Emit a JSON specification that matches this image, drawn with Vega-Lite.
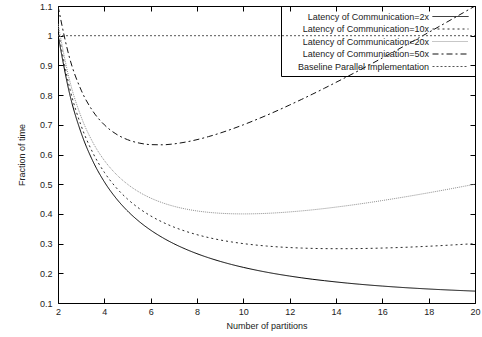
{
  "$schema": "https://vega.github.io/schema/vega-lite/v6.json",
  "width": 417,
  "height": 297,
  "autosize": {"type": "none"},
  "padding": {"left": 58, "top": 6, "right": 7, "bottom": 34},
  "background": "white",
  "config": {
    "view": {"stroke": "black", "strokeWidth": 1},
    "font": "Liberation Sans",
    "axis": {
      "grid": false,
      "domain": false,
      "ticks": true,
      "tickSize": -5,
      "tickColor": "black",
      "labelFont": "Liberation Sans",
      "labelFontSize": 9,
      "labelColor": "#222",
      "titleFont": "Liberation Sans",
      "titleFontSize": 9,
      "titleFontWeight": "normal",
      "titleColor": "#222"
    },
    "legend": {
      "orient": "top-right",
      "offset": 0,
      "fillColor": "transparent",
      "strokeColor": "black",
      "padding": 4,
      "rowPadding": 0.5,
      "labelFont": "Liberation Sans",
      "labelFontSize": 9,
      "labelColor": "#222",
      "labelAlign": "right",
      "symbolType": "M-3,0H3",
      "symbolSize": 144,
      "symbolStrokeWidth": 1,
      "symbolFillColor": "transparent",
      "symbolOffset": 159,
      "labelOffset": -28
    }
  },
  "data": {
    "values": [
      {"n":2,"s":"Latency of Communication=2x","f":1.004},
      {"n":2.5,"s":"Latency of Communication=2x","f":0.805},
      {"n":3,"s":"Latency of Communication=2x","f":0.6727},
      {"n":3.5,"s":"Latency of Communication=2x","f":0.5784},
      {"n":4,"s":"Latency of Communication=2x","f":0.508},
      {"n":4.5,"s":"Latency of Communication=2x","f":0.4534},
      {"n":5,"s":"Latency of Communication=2x","f":0.41},
      {"n":5.5,"s":"Latency of Communication=2x","f":0.3746},
      {"n":6,"s":"Latency of Communication=2x","f":0.3453},
      {"n":6.5,"s":"Latency of Communication=2x","f":0.3207},
      {"n":7,"s":"Latency of Communication=2x","f":0.2997},
      {"n":7.5,"s":"Latency of Communication=2x","f":0.2817},
      {"n":8,"s":"Latency of Communication=2x","f":0.266},
      {"n":8.5,"s":"Latency of Communication=2x","f":0.2523},
      {"n":9,"s":"Latency of Communication=2x","f":0.2402},
      {"n":9.5,"s":"Latency of Communication=2x","f":0.2295},
      {"n":10,"s":"Latency of Communication=2x","f":0.22},
      {"n":10.5,"s":"Latency of Communication=2x","f":0.2115},
      {"n":11,"s":"Latency of Communication=2x","f":0.2038},
      {"n":11.5,"s":"Latency of Communication=2x","f":0.1969},
      {"n":12,"s":"Latency of Communication=2x","f":0.1907},
      {"n":12.5,"s":"Latency of Communication=2x","f":0.185},
      {"n":13,"s":"Latency of Communication=2x","f":0.1798},
      {"n":13.5,"s":"Latency of Communication=2x","f":0.1752},
      {"n":14,"s":"Latency of Communication=2x","f":0.1709},
      {"n":14.5,"s":"Latency of Communication=2x","f":0.1669},
      {"n":15,"s":"Latency of Communication=2x","f":0.1633},
      {"n":15.5,"s":"Latency of Communication=2x","f":0.16},
      {"n":16,"s":"Latency of Communication=2x","f":0.157},
      {"n":16.5,"s":"Latency of Communication=2x","f":0.1542},
      {"n":17,"s":"Latency of Communication=2x","f":0.1516},
      {"n":17.5,"s":"Latency of Communication=2x","f":0.1493},
      {"n":18,"s":"Latency of Communication=2x","f":0.1471},
      {"n":18.5,"s":"Latency of Communication=2x","f":0.1451},
      {"n":19,"s":"Latency of Communication=2x","f":0.1433},
      {"n":19.5,"s":"Latency of Communication=2x","f":0.1416},
      {"n":20,"s":"Latency of Communication=2x","f":0.14},
      {"n":2,"s":"Latency of Communication=10x","f":1.02},
      {"n":2.5,"s":"Latency of Communication=10x","f":0.825},
      {"n":3,"s":"Latency of Communication=10x","f":0.6967},
      {"n":3.5,"s":"Latency of Communication=10x","f":0.6064},
      {"n":4,"s":"Latency of Communication=10x","f":0.54},
      {"n":4.5,"s":"Latency of Communication=10x","f":0.4894},
      {"n":5,"s":"Latency of Communication=10x","f":0.45},
      {"n":5.5,"s":"Latency of Communication=10x","f":0.4186},
      {"n":6,"s":"Latency of Communication=10x","f":0.3933},
      {"n":6.5,"s":"Latency of Communication=10x","f":0.3727},
      {"n":7,"s":"Latency of Communication=10x","f":0.3557},
      {"n":7.5,"s":"Latency of Communication=10x","f":0.3417},
      {"n":8,"s":"Latency of Communication=10x","f":0.33},
      {"n":8.5,"s":"Latency of Communication=10x","f":0.3203},
      {"n":9,"s":"Latency of Communication=10x","f":0.3122},
      {"n":9.5,"s":"Latency of Communication=10x","f":0.3055},
      {"n":10,"s":"Latency of Communication=10x","f":0.3},
      {"n":10.5,"s":"Latency of Communication=10x","f":0.2955},
      {"n":11,"s":"Latency of Communication=10x","f":0.2918},
      {"n":11.5,"s":"Latency of Communication=10x","f":0.2889},
      {"n":12,"s":"Latency of Communication=10x","f":0.2867},
      {"n":12.5,"s":"Latency of Communication=10x","f":0.285},
      {"n":13,"s":"Latency of Communication=10x","f":0.2838},
      {"n":13.5,"s":"Latency of Communication=10x","f":0.2831},
      {"n":14,"s":"Latency of Communication=10x","f":0.2829},
      {"n":14.5,"s":"Latency of Communication=10x","f":0.2829},
      {"n":15,"s":"Latency of Communication=10x","f":0.2833},
      {"n":15.5,"s":"Latency of Communication=10x","f":0.284},
      {"n":16,"s":"Latency of Communication=10x","f":0.285},
      {"n":16.5,"s":"Latency of Communication=10x","f":0.2862},
      {"n":17,"s":"Latency of Communication=10x","f":0.2876},
      {"n":17.5,"s":"Latency of Communication=10x","f":0.2893},
      {"n":18,"s":"Latency of Communication=10x","f":0.2911},
      {"n":18.5,"s":"Latency of Communication=10x","f":0.2931},
      {"n":19,"s":"Latency of Communication=10x","f":0.2953},
      {"n":19.5,"s":"Latency of Communication=10x","f":0.2976},
      {"n":20,"s":"Latency of Communication=10x","f":0.3},
      {"n":2,"s":"Latency of Communication=20x","f":1.04},
      {"n":2.5,"s":"Latency of Communication=20x","f":0.85},
      {"n":3,"s":"Latency of Communication=20x","f":0.7267},
      {"n":3.5,"s":"Latency of Communication=20x","f":0.6414},
      {"n":4,"s":"Latency of Communication=20x","f":0.58},
      {"n":4.5,"s":"Latency of Communication=20x","f":0.5344},
      {"n":5,"s":"Latency of Communication=20x","f":0.5},
      {"n":5.5,"s":"Latency of Communication=20x","f":0.4736},
      {"n":6,"s":"Latency of Communication=20x","f":0.4533},
      {"n":6.5,"s":"Latency of Communication=20x","f":0.4377},
      {"n":7,"s":"Latency of Communication=20x","f":0.4257},
      {"n":7.5,"s":"Latency of Communication=20x","f":0.4167},
      {"n":8,"s":"Latency of Communication=20x","f":0.41},
      {"n":8.5,"s":"Latency of Communication=20x","f":0.4053},
      {"n":9,"s":"Latency of Communication=20x","f":0.4022},
      {"n":9.5,"s":"Latency of Communication=20x","f":0.4005},
      {"n":10,"s":"Latency of Communication=20x","f":0.4},
      {"n":10.5,"s":"Latency of Communication=20x","f":0.4005},
      {"n":11,"s":"Latency of Communication=20x","f":0.4018},
      {"n":11.5,"s":"Latency of Communication=20x","f":0.4039},
      {"n":12,"s":"Latency of Communication=20x","f":0.4067},
      {"n":12.5,"s":"Latency of Communication=20x","f":0.41},
      {"n":13,"s":"Latency of Communication=20x","f":0.4138},
      {"n":13.5,"s":"Latency of Communication=20x","f":0.4181},
      {"n":14,"s":"Latency of Communication=20x","f":0.4229},
      {"n":14.5,"s":"Latency of Communication=20x","f":0.4279},
      {"n":15,"s":"Latency of Communication=20x","f":0.4333},
      {"n":15.5,"s":"Latency of Communication=20x","f":0.439},
      {"n":16,"s":"Latency of Communication=20x","f":0.445},
      {"n":16.5,"s":"Latency of Communication=20x","f":0.4512},
      {"n":17,"s":"Latency of Communication=20x","f":0.4576},
      {"n":17.5,"s":"Latency of Communication=20x","f":0.4643},
      {"n":18,"s":"Latency of Communication=20x","f":0.4711},
      {"n":18.5,"s":"Latency of Communication=20x","f":0.4781},
      {"n":19,"s":"Latency of Communication=20x","f":0.4853},
      {"n":19.5,"s":"Latency of Communication=20x","f":0.4926},
      {"n":20,"s":"Latency of Communication=20x","f":0.5},
      {"n":2,"s":"Latency of Communication=50x","f":1.1},
      {"n":2.5,"s":"Latency of Communication=50x","f":0.925},
      {"n":3,"s":"Latency of Communication=50x","f":0.8167},
      {"n":3.5,"s":"Latency of Communication=50x","f":0.7464},
      {"n":4,"s":"Latency of Communication=50x","f":0.7},
      {"n":4.5,"s":"Latency of Communication=50x","f":0.6694},
      {"n":5,"s":"Latency of Communication=50x","f":0.65},
      {"n":5.5,"s":"Latency of Communication=50x","f":0.6386},
      {"n":6,"s":"Latency of Communication=50x","f":0.6333},
      {"n":6.5,"s":"Latency of Communication=50x","f":0.6327},
      {"n":7,"s":"Latency of Communication=50x","f":0.6357},
      {"n":7.5,"s":"Latency of Communication=50x","f":0.6417},
      {"n":8,"s":"Latency of Communication=50x","f":0.65},
      {"n":8.5,"s":"Latency of Communication=50x","f":0.6603},
      {"n":9,"s":"Latency of Communication=50x","f":0.6722},
      {"n":9.5,"s":"Latency of Communication=50x","f":0.6855},
      {"n":10,"s":"Latency of Communication=50x","f":0.7},
      {"n":10.5,"s":"Latency of Communication=50x","f":0.7155},
      {"n":11,"s":"Latency of Communication=50x","f":0.7318},
      {"n":11.5,"s":"Latency of Communication=50x","f":0.7489},
      {"n":12,"s":"Latency of Communication=50x","f":0.7667},
      {"n":12.5,"s":"Latency of Communication=50x","f":0.785},
      {"n":13,"s":"Latency of Communication=50x","f":0.8038},
      {"n":13.5,"s":"Latency of Communication=50x","f":0.8231},
      {"n":14,"s":"Latency of Communication=50x","f":0.8429},
      {"n":14.5,"s":"Latency of Communication=50x","f":0.8629},
      {"n":15,"s":"Latency of Communication=50x","f":0.8833},
      {"n":15.5,"s":"Latency of Communication=50x","f":0.904},
      {"n":16,"s":"Latency of Communication=50x","f":0.925},
      {"n":16.5,"s":"Latency of Communication=50x","f":0.9462},
      {"n":17,"s":"Latency of Communication=50x","f":0.9676},
      {"n":17.5,"s":"Latency of Communication=50x","f":0.9893},
      {"n":18,"s":"Latency of Communication=50x","f":1.0111},
      {"n":18.5,"s":"Latency of Communication=50x","f":1.0331},
      {"n":19,"s":"Latency of Communication=50x","f":1.0553},
      {"n":19.5,"s":"Latency of Communication=50x","f":1.0776},
      {"n":20,"s":"Latency of Communication=50x","f":1.1},
      {"n":2,"s":"Baseline Parallel Implementation","f":1},
      {"n":20,"s":"Baseline Parallel Implementation","f":1}
    ]
  },
  "layer": [
    {
      "mark": {"type": "line", "strokeWidth": 1, "interpolate": "monotone", "clip": true},
      "encoding": {
        "x": {
          "field": "n", "type": "quantitative",
          "scale": {"domain": [2, 20], "nice": false, "zero": false},
          "axis": {"values": [2,4,6,8,10,12,14,16,18,20], "title": "Number of partitions", "labelPadding": 9.5, "titlePadding": 4.5, "labelFlush": false}
        },
        "y": {
          "field": "f", "type": "quantitative",
          "scale": {"domain": [0.1, 1.1], "nice": false, "zero": false},
          "axis": {"values": [0.1,0.2,0.3,0.4,0.5,0.6,0.7,0.8,0.9,1,1.1], "format": "~g", "title": "Fraction of time", "labelPadding": 11, "titlePadding": 13, "labelFlush": false}
        },
        "color": {
          "field": "s", "type": "nominal",
          "scale": {
            "domain": ["Latency of Communication=2x","Latency of Communication=10x","Latency of Communication=20x","Latency of Communication=50x","Baseline Parallel Implementation"],
            "range": ["#000000","#2a2a2a","#8f8f8f","#111111","#555555"]
          },
          "legend": {"title": null}
        },
        "strokeDash": {
          "field": "s", "type": "nominal",
          "scale": {
            "domain": ["Latency of Communication=2x","Latency of Communication=10x","Latency of Communication=20x","Latency of Communication=50x","Baseline Parallel Implementation"],
            "range": [[1,0],[2,3],[1,1],[6,3,2,3],[2,2]]
          },
          "legend": {"title": null}
        }
      }
    },
    {
      "mark": {"type": "line", "opacity": 0},
      "encoding": {
        "x": {"field": "n", "type": "quantitative", "axis": {"orient": "top", "values": [2,4,6,8,10,12,14,16,18,20], "labels": false, "title": null}},
        "y": {"field": "f", "type": "quantitative", "axis": {"orient": "right", "values": [0.1,0.2,0.3,0.4,0.5,0.6,0.7,0.8,0.9,1,1.1], "labels": false, "title": null}}
      }
    }
  ],
  "resolve": {"axis": {"x": "independent", "y": "independent"}}
}
